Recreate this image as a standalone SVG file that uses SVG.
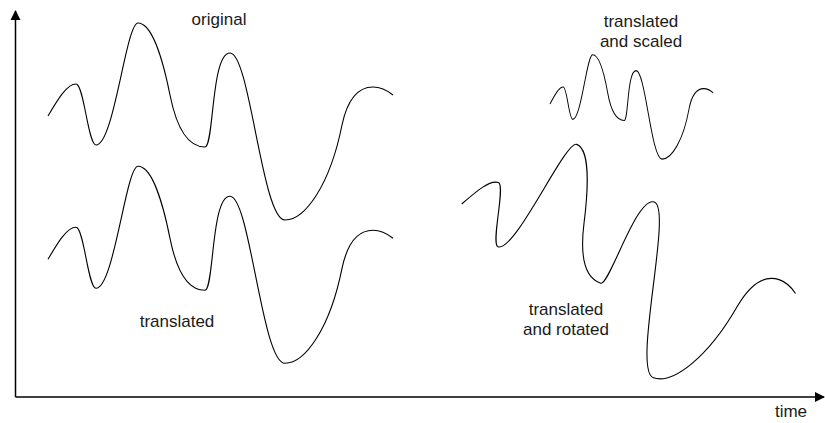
<svg xmlns="http://www.w3.org/2000/svg" xmlns:xlink="http://www.w3.org/1999/xlink" width="825" height="423" viewBox="0 0 825 423">
<style>
.curve{fill:none;stroke:#000;stroke-width:1.1}
.thick{fill:none;stroke:#000;stroke-width:2;vector-effect:non-scaling-stroke}
.axis{fill:none;stroke:#000;stroke-width:1.5}
text{font-family:"Liberation Sans",Arial,sans-serif;font-size:17px;fill:#1a1a1a;text-anchor:middle}
</style>
<defs>
<path id="wave" d="M48,116 C58,99 67,84 76,84 C84,84 88,145 96,145 C114,145 126,23 138,23 C152,23 163,60 170,95 C175,120 185,147 205,147 C214,147 211,53 230,53 C250,53 262,220 285,220 C305,220 330,185 342,125 C348,97 360,87 373,87 C382,87 388,91 393,95"/>
<marker id="arr" viewBox="0 0 10 10" refX="9" refY="5" markerWidth="10" markerHeight="12" markerUnits="userSpaceOnUse" orient="auto">
<path d="M0,0 L10,5 L0,10 Z" fill="#000"/>
</marker>
</defs>
<g id="axes">
<line class="axis" x1="15.5" y1="397" x2="15.5" y2="11" marker-end="url(#arr)"/>
<line class="axis" x1="15.5" y1="397" x2="824" y2="397" marker-end="url(#arr)"/>
<text x="791" y="417">time</text>
</g>
<g id="original">
<use xlink:href="#wave" href="#wave" class="curve"/>
<text x="219" y="25">original</text>
</g>
<g id="translated">
<use xlink:href="#wave" href="#wave" class="curve" transform="translate(0,143.3)"/>
<text x="177" y="327">translated</text>
</g>
<g id="scaled">
<use xlink:href="#wave" href="#wave" class="thick" transform="translate(550,104) scale(0.473,0.53) translate(-48,-116)"/>
<text x="641" y="27">translated</text>
<text x="641" y="47">and scaled</text>
</g>
<g id="rotated">
<use xlink:href="#wave" href="#wave" class="curve" transform="translate(461.7,204) rotate(18.5) translate(-48,-116)"/>
<text x="566" y="315">translated</text>
<text x="566" y="335">and rotated</text>
</g>
</svg>
